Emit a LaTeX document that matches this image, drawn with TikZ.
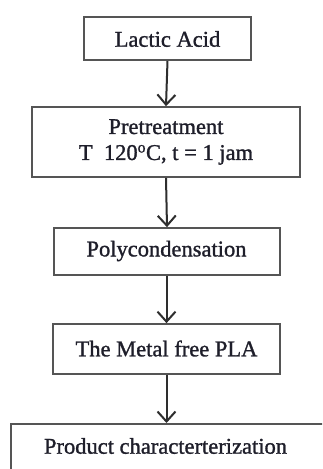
\documentclass[tikz,border=0pt]{standalone}
\usepackage{fontspec}
\setmainfont[FakeBold=1.2]{Liberation Serif}
\newfontfamily\heavyserif[FakeBold=1.2]{Liberation Serif}
\usetikzlibrary{arrows.meta}
\definecolor{boxline}{HTML}{555555}
\definecolor{arrowline}{HTML}{2E2E2E}
\definecolor{txt}{HTML}{1E1E2A}
\tikzset{
  box/.style={draw=boxline, line width=1.7pt, rectangle, inner sep=0pt},
  lbl/.style={text=txt, font=\heavyserif\fontsize{22.5}{26}\selectfont, align=center, inner sep=0pt},
  flow/.style={draw=arrowline, line width=2pt, -{Straight Barb[length=10pt,width=18pt,line width=2pt]}}
}
\begin{document}
\begin{tikzpicture}[x=1pt,y=-1pt]
\useasboundingbox (0,0) rectangle (322,469);
\clip (0,0) rectangle (322,469);
\fill[white] (0,0) rectangle (322,469);
\node[box, minimum width=167pt, minimum height=43pt] (b1) at (167.5,38.5) {};
\node[lbl] (t1) at (167.5,39) {Lactic Acid};
\node[box, minimum width=268pt, minimum height=70pt] (b2) at (166,142) {};
\node[lbl] (t2) at (166,142) {Pretreatment\\T\ \ 120\textsuperscript{o}C, t = 1 jam};
\node[box, minimum width=226pt, minimum height=47pt] (b3) at (167,251.5) {};
\node[lbl] (t3) at (166.5,251) {Polycondensation};
\node[box, minimum width=227pt, minimum height=50pt] (b4) at (166.5,349) {};
\node[lbl] (t4) at (166.5,348.5) {The Metal free PLA};
\node[box, minimum width=330pt, minimum height=70pt, anchor=north west] (b5) at (10,423) {};
\node[lbl] (t5) at (165.5,446) {Product characterterization};
\draw[flow] (b1.south) -- (b2.north);
\draw[flow] (b2.south) -- (b3.north);
\draw[flow] (b4.north |- b3.south) -- (b4.north);
\draw[flow] (b4.south) -- (b4.south |- b5.north);
\end{tikzpicture}
\end{document}
